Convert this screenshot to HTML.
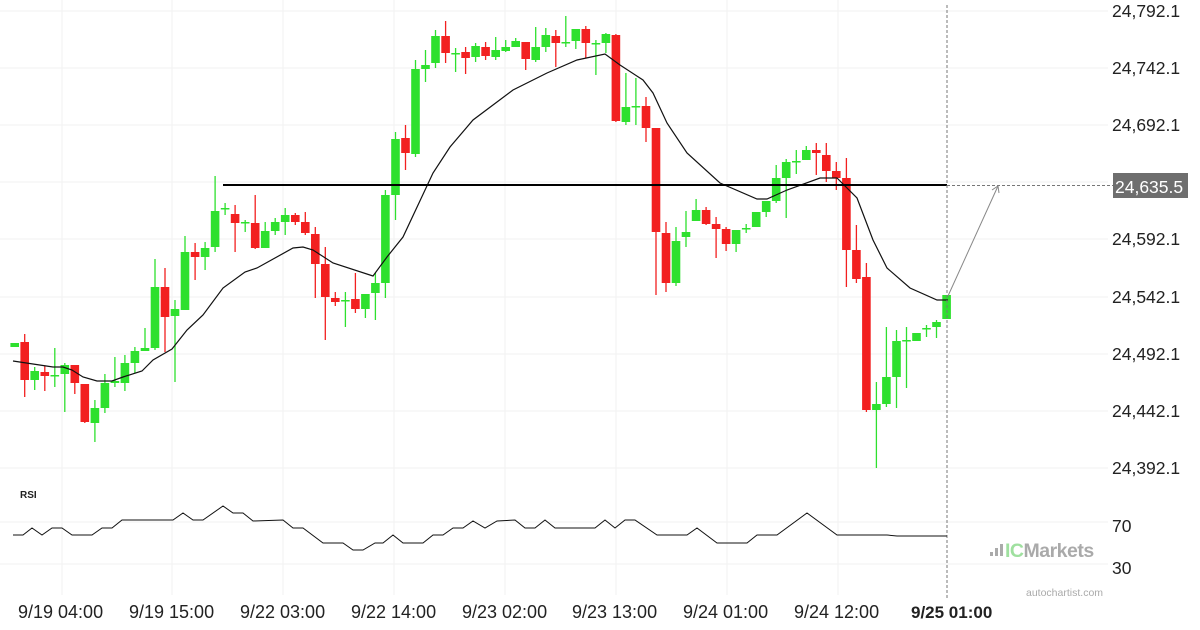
<!DOCTYPE html>
<html><head><meta charset="utf-8"><style>
html,body{margin:0;padding:0;background:#fff;width:1200px;height:630px;overflow:hidden}
svg{display:block;font-family:"Liberation Sans",sans-serif}
</style></head><body>
<svg id="s" width="1200" height="630" viewBox="0 0 1200 630" xmlns="http://www.w3.org/2000/svg">
<g stroke="#f2f2f2" stroke-width="1">
<line x1="0" y1="11" x2="1108" y2="11"/><line x1="0" y1="68" x2="1108" y2="68"/><line x1="0" y1="125" x2="1108" y2="125"/><line x1="0" y1="182" x2="1108" y2="182"/><line x1="0" y1="239" x2="1108" y2="239"/><line x1="0" y1="297" x2="1108" y2="297"/><line x1="0" y1="354" x2="1108" y2="354"/><line x1="0" y1="411" x2="1108" y2="411"/><line x1="0" y1="468" x2="1108" y2="468"/>
<line x1="0" y1="522" x2="1108" y2="522"/><line x1="0" y1="564" x2="1108" y2="564"/>
<line x1="62" y1="0" x2="62" y2="595"/><line x1="172" y1="0" x2="172" y2="595"/><line x1="283" y1="0" x2="283" y2="595"/><line x1="394" y1="0" x2="394" y2="595"/><line x1="505" y1="0" x2="505" y2="595"/><line x1="616" y1="0" x2="616" y2="595"/><line x1="727" y1="0" x2="727" y2="595"/><line x1="838" y1="0" x2="838" y2="595"/>
</g>
<g id="c"></g>
<polyline fill="none" stroke="#111" stroke-width="1.2" points="13,361 33,364 53,367 63,367 72,370 83,377 97,381 112,381 123,377 142,371 153,360 172,349 187,330 203,315 223,288 245,272 257,268 293,248 303,247 313,250 333,263 373,276 387,257 403,237 433,173 450,147 473,120 513,90 547,73 577,60 605,54 620,65 643,80 653,93 667,123 687,153 720,183 757,199 767,199 787,190 820,178 837,178 857,198 873,240 887,268 910,288 937,300 948,300"/>
<line x1="223" y1="185" x2="947" y2="185" stroke="#000" stroke-width="2"/>
<line x1="947" y1="185.5" x2="1113" y2="185.5" stroke="#777" stroke-width="1" stroke-dasharray="3,2"/>
<line x1="947" y1="5" x2="947" y2="598" stroke="#777" stroke-width="1" stroke-dasharray="3,2"/>
<line x1="948" y1="296" x2="998" y2="186" stroke="#888" stroke-width="1"/>
<polyline points="992,190 998,186 999,193" fill="none" stroke="#888" stroke-width="1"/>
<rect x="1113" y="173" width="75" height="25" fill="#6e6e6e"/>
<text x="1115" y="193" font-size="17.5" fill="#fff">24,635.5</text>
<g font-size="17.5" fill="#222">
<text x="1112" y="17">24,792.1</text><text x="1112" y="74">24,742.1</text><text x="1112" y="131">24,692.1</text><text x="1112" y="245">24,592.1</text><text x="1112" y="303">24,542.1</text><text x="1112" y="360">24,492.1</text><text x="1112" y="417">24,442.1</text><text x="1112" y="474">24,392.1</text>
<text x="1112" y="532">70</text><text x="1112" y="574">30</text>
</g>
<text x="20" y="498" font-size="10" font-weight="bold" fill="#222">RSI</text>
<polyline fill="none" stroke="#111" stroke-width="1" points="13,535 23,535 32,528 42,535 52,528 62,528 72,535 92,535 102,528 112,528 122,520 173,520 183,513 193,520 203,520 223,506 233,513 243,513 253,521 283,520 293,528 303,528 323,543 343,543 353,550 363,550 375,543 383,543 393,535 403,543 423,543 433,535 443,535 453,528 463,528 473,521 485,528 497,521 515,520 525,528 535,528 545,520 555,528 595,528 605,520 615,528 625,520 635,520 657,535 687,535 697,528 717,543 747,543 757,535 777,535 807,513 837,535 887,535 897,536 947,536"/>
<g font-size="18" fill="#222">
<text x="18" y="618">9/19 04:00</text><text x="129" y="618">9/19 15:00</text><text x="240" y="618">9/22 03:00</text><text x="351" y="618">9/22 14:00</text><text x="462" y="618">9/23 02:00</text><text x="572" y="618">9/23 13:00</text><text x="683" y="618">9/24 01:00</text><text x="794" y="618">9/24 12:00</text>
<text x="911" y="618" font-weight="bold" font-size="17">9/25 01:00</text>
</g>
<g fill="#aaa"><rect x="990" y="552" width="3" height="4"/><rect x="995" y="548" width="3" height="8"/><rect x="1000" y="544" width="3" height="12"/></g>
<text x="1005" y="557" font-size="19.5" font-weight="bold" fill="#aaa" letter-spacing="-0.5"><tspan fill="#9fe09f">IC</tspan>Markets</text>
<text x="1026" y="596" font-size="10.5" fill="#aaa">autochartist.com</text>
</svg>
<script>
var d=[[343,347,343,347,1],[342,380,334,397,0],[371,380,367,390,1],[372,376,366,391,0],[375,376,348,387,1],[365,374,363,412,1],[365,383,365,394,0],[384,422,384,423,0],[408,423,400,442,1],[383,408,374,413,1],[381,383,357,387,1],[363,383,355,391,1],[351,363,347,373,1],[348,351,328,350,1],[287,348,259,350,1],[287,317,268,352,0],[309,316,300,382,1],[252,310,236,310,1],[252,257,243,280,0],[248,257,242,270,1],[211,247,176,252,1],[208,209,203,215,1],[214,223,205,252,0],[222,223,220,232,1],[223,248,195,249,0],[231,248,222,248,1],[222,231,218,235,1],[215,222,208,235,1],[215,222,213,225,0],[222,233,212,235,0],[234,264,227,298,0],[264,297,247,340,0],[298,302,292,306,0],[300,301,292,327,1],[299,309,273,313,0],[294,309,294,318,1],[283,293,273,320,1],[195,283,190,298,1],[139,195,132,220,1],[138,153,125,170,0],[69,154,60,157,1],[65,69,50,82,1],[36,63,30,68,1],[36,53,21,63,0],[53,54,48,72,1],[52,58,47,74,0],[46,57,43,62,1],[47,56,42,60,0],[50,57,37,60,1],[47,51,40,52,1],[41,47,38,47,1],[42,59,42,70,0],[47,60,27,62,1],[35,47,28,52,1],[36,43,30,67,0],[42,43,16,47,1],[29,41,29,49,1],[29,43,26,58,0],[43,44,40,75,1],[34,43,33,53,1],[35,121,34,122,0],[107,122,73,125,1],[106,107,78,125,1],[106,128,97,142,0],[128,232,128,295,0],[233,283,222,292,0],[241,283,227,286,1],[232,237,211,247,1],[210,221,199,221,1],[210,224,207,225,0],[224,229,217,258,0],[229,244,227,251,0],[230,244,230,252,1],[228,229,224,233,1],[212,227,212,227,1],[201,212,201,217,1],[178,201,165,203,1],[162,178,159,218,1],[161,162,150,174,1],[150,160,146,160,1],[150,153,143,175,0],[155,171,143,182,0],[171,178,162,190,0],[178,250,158,287,0],[250,279,225,283,0],[277,410,263,412,0],[404,410,382,468,1],[377,404,327,407,1],[341,377,330,408,1],[340,341,327,388,1],[333,341,333,341,1],[328,329,325,337,1],[322,327,320,338,1],[295,319,295,319,1]];
var g=document.getElementById('c'),h='';
d.forEach(function(c,i){var x=14.7+10.02*i,col=c[4]?'#2ee02e':'#f22020';
h+='<line x1="'+x.toFixed(1)+'" y1="'+c[2]+'" x2="'+x.toFixed(1)+'" y2="'+c[3]+'" stroke="'+col+'" stroke-width="1.3"/>';
var hh=Math.max(c[1]-c[0],1.5);
h+='<rect x="'+(x-4.3).toFixed(1)+'" y="'+c[0]+'" width="8.6" height="'+hh+'" fill="'+col+'"/>';});
g.innerHTML=h;
</script>
</body></html>
